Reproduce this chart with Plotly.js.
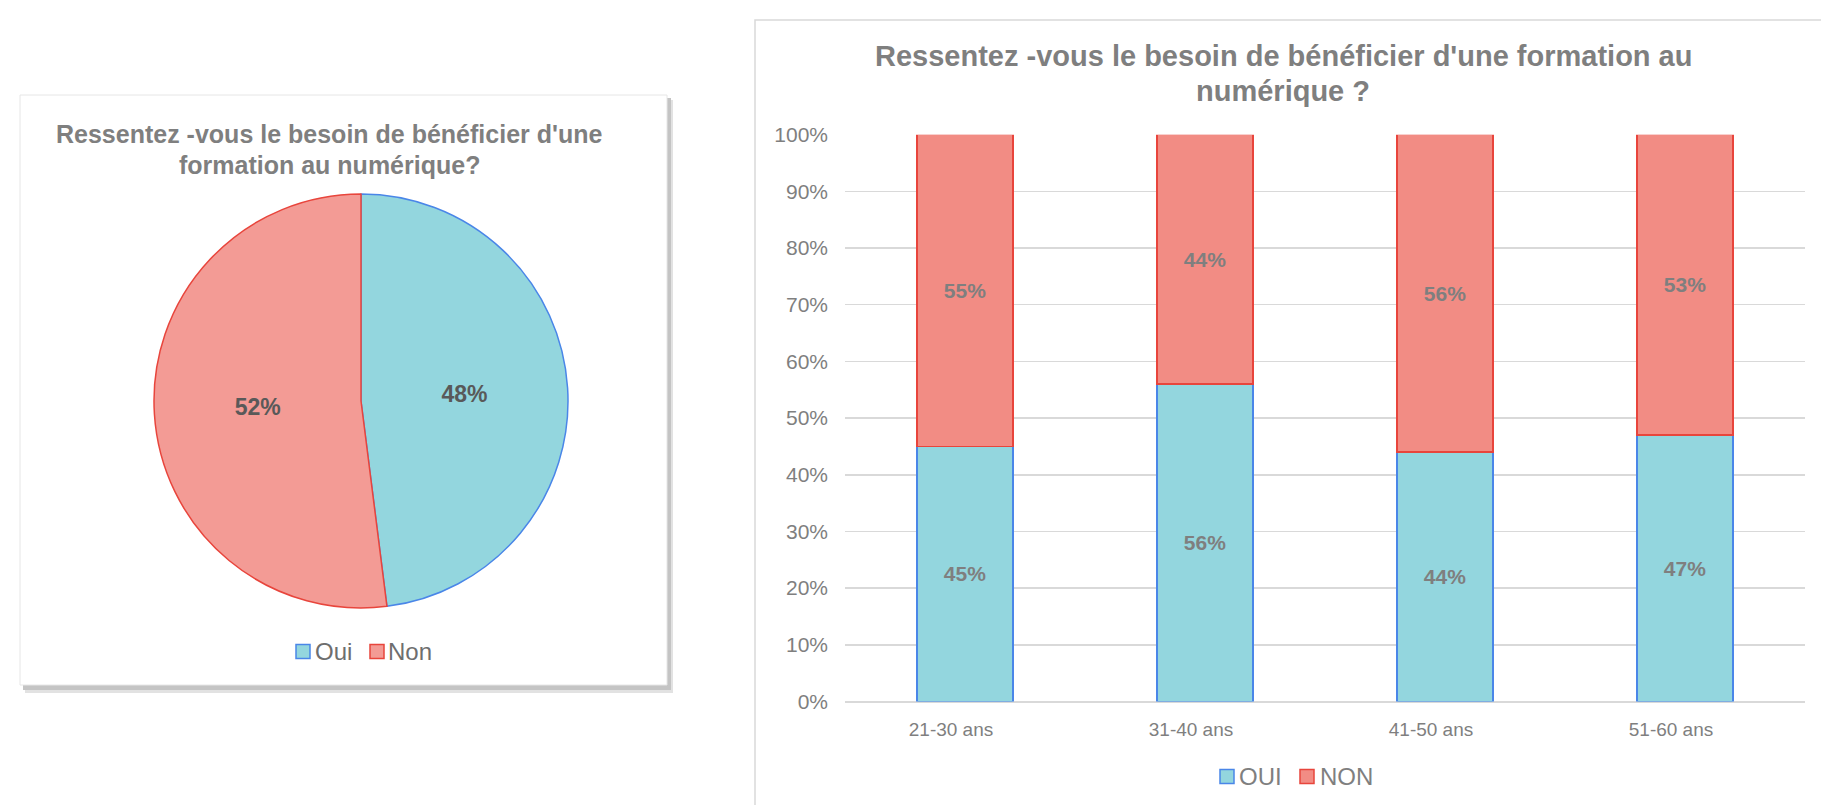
<!DOCTYPE html>
<html>
<head>
<meta charset="utf-8">
<script src="https://cdn.plot.ly/plotly-3.0.1.min.js"></script>
<style>html,body{margin:0;padding:0;background:#fff;}#chart{width:1821px;height:805px;}</style>
</head>
<body>
<div id="chart"></div>
<script>
// ---- data ----
const pieLabels = ["Oui", "Non"];
const pieValues = [48, 52];
const ageGroups = ["21-30 ans", "31-40 ans", "41-50 ans", "51-60 ans"];
const ouiValues = [45, 56, 44, 47];
const nonValues = [55, 44, 56, 53];
const yTickVals = [0, 10, 20, 30, 40, 50, 60, 70, 80, 90, 100];
const barSeriesNames = ["OUI", "NON"];
const pieTitleLines = ["Ressentez -vous le besoin de bénéficier d'une", "formation au numérique?"];
const barTitleLines = ["Ressentez -vous le besoin de bénéficier d'une formation au", "numérique ?"];

// ---- layout helpers ----
const W = 1821, H = 805;
const px = v => v / W;
const py = v => 1 - v / H;
const FONT = "Liberation Sans, Arial, sans-serif";
const GRAY = "#7f7f7f";
const ouiFill = "#93d6de", ouiLine = "#4a86e8";
const nonFill = "#f28c84", nonLine = "#e8453c";
const pieNonFill = "#f39b95";

const pieTrace = {
  type: "pie",
  labels: pieLabels,
  values: pieValues,
  sort: false,
  direction: "clockwise",
  rotation: 0,
  texttemplate: "<b>%{percent:.0%}</b>",
  insidetextorientation: "horizontal",
  textfont: {family: FONT, size: 23, color: "#595959"},
  marker: {colors: [ouiFill, pieNonFill], line: {color: [ouiLine, nonLine], width: 1.5}},
  domain: {x: [px(154), px(568)], y: [py(608), py(194)]},
  showlegend: false,
  hoverinfo: "label+percent"
};

function barTrace(name, vals, fill, line) {
  return {
    type: "bar", name: name, x: ageGroups, y: vals,
    text: vals.map(v => "<b>" + v + "%</b>"),
    textposition: "inside", insidetextanchor: "middle",
    textfont: {family: FONT, size: 21, color: GRAY},
    marker: {color: fill, line: {color: line, width: 1.5}},
    xaxis: "x", yaxis: "y", showlegend: false
  };
}
const barOui = barTrace(barSeriesNames[0], ouiValues, ouiFill, ouiLine);
const barNon = barTrace(barSeriesNames[1], nonValues, nonFill, nonLine);

const annotations = [];
pieTitleLines.forEach((t, i) => annotations.push({
  text: "<b>" + t + "</b>", xref: "paper", yref: "paper",
  x: px(329), y: py([133.5, 165][i]), xanchor: "center", yanchor: "middle",
  showarrow: false, font: {family: FONT, size: 25, color: GRAY}
}));
barTitleLines.forEach((t, i) => annotations.push({
  text: "<b>" + t + "</b>", xref: "paper", yref: "paper",
  x: px(1283), y: py([56, 91][i]), xanchor: "center", yanchor: "middle",
  showarrow: false, font: {family: FONT, size: 29, color: GRAY}
}));

const shapes = [
  // left box shadow
  {type: "rect", xref: "paper", yref: "paper", x0: px(25), x1: px(673), y0: py(693), y1: py(100),
   fillcolor: "#e2e2e2", line: {width: 0}, layer: "below"},
  {type: "rect", xref: "paper", yref: "paper", x0: px(23), x1: px(671), y0: py(690), y1: py(98),
   fillcolor: "#c4c4c4", line: {width: 0}, layer: "below"},
  // left box
  {type: "rect", xref: "paper", yref: "paper", x0: px(20), x1: px(667), y0: py(685), y1: py(95),
   fillcolor: "#ffffff", line: {color: "#e6e6e6", width: 1}, layer: "below"},
  // right box
  {type: "rect", xref: "paper", yref: "paper", x0: px(755), x1: px(1830), y0: py(820), y1: py(20),
   fillcolor: "rgba(0,0,0,0)", line: {color: "#d9d9d9", width: 1.5}, layer: "below"}
];

// ---- legends (drawn as key squares + labels) ----
function legendItem(label, fill, line, sqX, textX, cy, size, color) {
  shapes.push({type: "rect", xref: "paper", yref: "paper",
    x0: px(sqX), x1: px(sqX + 14), y0: py(cy + 7), y1: py(cy - 7),
    fillcolor: fill, line: {color: line, width: 1.5}});
  annotations.push({text: label, xref: "paper", yref: "paper", x: px(textX), y: py(cy),
    xanchor: "left", yanchor: "middle", showarrow: false,
    font: {family: FONT, size: size, color: color}});
}
legendItem(pieLabels[0], ouiFill, ouiLine, 296, 313, 651.5, 24, "#6e6e6e");
legendItem(pieLabels[1], pieNonFill, nonLine, 370, 386, 651.5, 24, "#6e6e6e");
legendItem(barSeriesNames[0], ouiFill, ouiLine, 1220, 1237, 776.5, 24, GRAY);
legendItem(barSeriesNames[1], nonFill, nonLine, 1300, 1318, 776.5, 24, GRAY);

const layout = {
  width: W, height: H,
  margin: {l: 0, r: 0, t: 0, b: 0},
  paper_bgcolor: "#ffffff", plot_bgcolor: "rgba(0,0,0,0)",
  font: {family: FONT, color: GRAY},
  barmode: "stack", bargap: 0.6,
  showlegend: false,
  xaxis: {
    domain: [px(845), px(1805)],
    anchor: "y",
    tickfont: {family: FONT, size: 19, color: GRAY},
    ticks: "", showline: false, showgrid: false, zeroline: false,
    ticklabelstandoff: 14, ticklabelshift: -14, fixedrange: true
  },
  yaxis: {
    domain: [py(701.5), py(134.7)],
    anchor: "x",
    range: [0, 100],
    tickvals: yTickVals,
    ticktext: yTickVals.map(v => v + "%"),
    tickfont: {family: FONT, size: 21, color: GRAY},
    showgrid: true, gridcolor: "#d9d9d9", gridwidth: 1.5,
    zeroline: true, zerolinecolor: "#d9d9d9", zerolinewidth: 2,
    ticks: "", showline: false, ticklabelstandoff: 16, fixedrange: true
  },
  annotations: annotations,
  shapes: shapes
};

Plotly.newPlot("chart", [pieTrace, barOui, barNon], layout, {displayModeBar: false, staticPlot: true});
</script>
</body>
</html>
